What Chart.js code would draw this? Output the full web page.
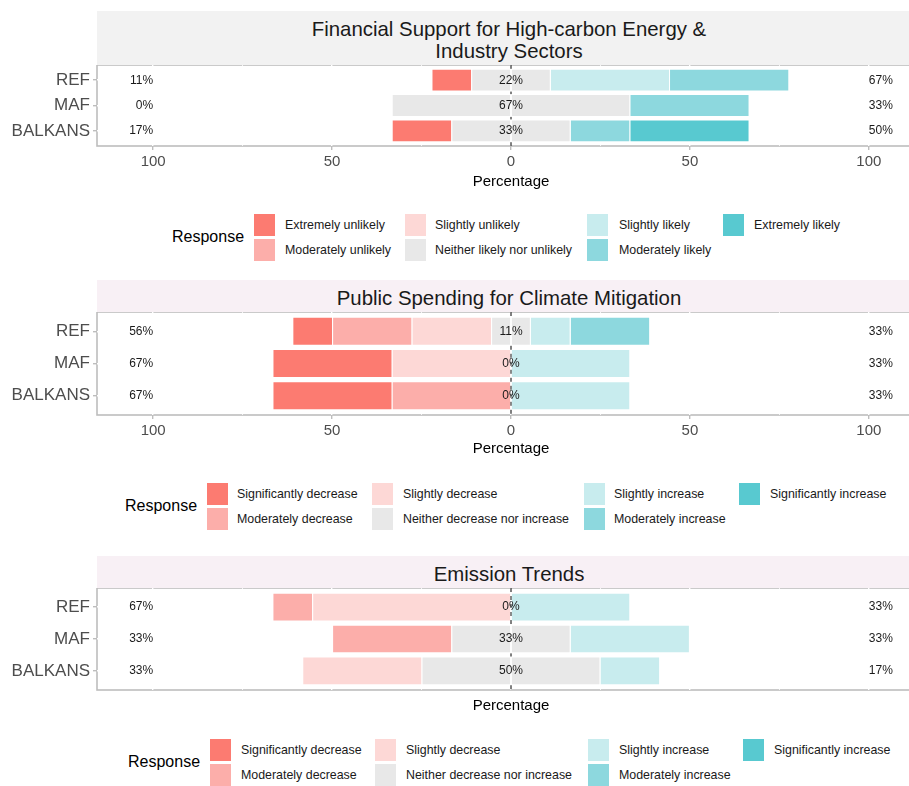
<!DOCTYPE html>
<html>
<head>
<meta charset="utf-8">
<script src="https://cdn.jsdelivr.net/npm/chart.js@4.4.0/dist/chart.umd.min.js"></script>
<style>
  html, body { margin: 0; padding: 0; background: #fff; width: 909px; height: 786px; overflow: hidden; }
  body { position: relative; font-family: 'Liberation Sans', Arial, sans-serif; }
  .strip { position: absolute; left: 97px; width: 824px; box-sizing: border-box; padding-top: 3px;
           display: flex; align-items: center; justify-content: center;
           text-align: center; color: #1a1a1a; font-size: 20.4px; line-height: 22px; }
  canvas { position: absolute; left: 0; }
  .resp { position: absolute; font-size: 16px; color: #000; line-height: 18px; }
  .key { position: absolute; width: 23px; height: 24px; border: 1px solid #fff; box-sizing: border-box; }
  .ktext { position: absolute; font-size: 12.4px; color: #1a1a1a; line-height: 14px; }
</style>
</head>
<body>
<script>
const groups = ['REF', 'MAF', 'BALKANS'];
const xTicks = [-100, -75, -50, -25, 0, 25, 50, 75, 100];

// shares in %, from most negative answer to most positive (7 levels)
const finREF = [11.11, 0, 0, 22.22, 33.33, 33.33, 0];
const finMAF = [0, 0, 0, 66.67, 0, 33.33, 0];
const finBALKANS = [16.67, 0, 0, 33.33, 0, 16.67, 33.33];

const spendREF = [11.11, 22.22, 22.22, 11.11, 11.11, 22.22, 0];
const spendMAF = [33.33, 0, 33.33, 0, 33.33, 0, 0];
const spendBALKANS = [33.33, 33.33, 0, 0, 33.33, 0, 0];

const emisREF = [0, 11.11, 55.56, 0, 33.33, 0, 0];
const emisMAF = [0, 33.33, 0, 33.33, 33.33, 0, 0];
const emisBALKANS = [0, 0, 33.33, 50, 16.67, 0, 0];

const likelyLevels = ['Extremely unlikely', 'Moderately unlikely', 'Slightly unlikely', 'Neither likely nor unlikely',
  'Slightly likely', 'Moderately likely', 'Extremely likely'];
const changeLevels = ['Significantly decrease', 'Moderately decrease', 'Slightly decrease', 'Neither decrease nor increase',
  'Slightly increase', 'Moderately increase', 'Significantly increase'];

const levelColors = ['#FC7B71', '#FCAEAA', '#FDD8D6', '#E8E8E8', '#C8ECEE', '#8DD8DE', '#58C9D0'];

Chart.defaults.font.family = "'Liberation Sans', Arial, sans-serif";

const panels = [
  {
    title: 'Financial Support for High-carbon Energy &<br>Industry Sectors',
    rows: [finREF, finMAF, finBALKANS], levels: likelyLevels,
    strip: { top: 11, h: 54, bg: '#F2F2F2' },
    canvas: { top: 65, h: 126, axisH: 45 }, showTicks: true,
    legend: { top: 213, resp: 172, cols: [[253, 285], [404, 435], [586, 619], [722, 754]] }
  },
  {
    title: 'Public Spending for Climate Mitigation',
    rows: [spendREF, spendMAF, spendBALKANS], levels: changeLevels,
    strip: { top: 280, h: 32, bg: '#F8F0F5' },
    canvas: { top: 312, h: 146, axisH: 43 }, showTicks: true,
    legend: { top: 482, resp: 125, cols: [[206, 237], [371, 403], [583, 614], [738, 770]] }
  },
  {
    title: 'Emission Trends',
    rows: [emisREF, emisMAF, emisBALKANS], levels: changeLevels,
    strip: { top: 556, h: 32, bg: '#F8F0F5' },
    canvas: { top: 588, h: 127, axisH: 25 }, showTicks: false,
    legend: { top: 738, resp: 128, cols: [[209, 241], [374, 406], [587, 619], [742, 774]] }
  }
];

const sum = (r, idx) => idx.reduce((a, i) => a + r[i], 0);

function buildDatasets(rows, levels) {
  const ds = [];
  // neutral is split in half around zero; each side stacks outward from it
  [[3, -1], [2, -1], [1, -1], [0, -1], [3, 1], [4, 1], [5, 1], [6, 1]].forEach(([l, s]) => {
    ds.push({
      label: levels[l],
      backgroundColor: levelColors[l],
      borderColor: 'rgba(255,255,255,0.9)',
      borderWidth: 1,
      data: rows.map((r, i) => ({ y: i + 1, x: (l === 3 ? s * r[l] / 2 : s * r[l]) || null }))
    });
  });
  return ds;
}

function panelPlugin(rows) {
  return {
    id: 'panelDecor',
    beforeDraw(chart) {
      const a = chart.chartArea, ctx = chart.ctx;
      ctx.save();
      ctx.strokeStyle = '#BDBDBD';
      ctx.lineWidth = 1.6;
      ctx.strokeRect(a.left, a.top, a.right - a.left, a.bottom - a.top);
      ctx.restore();
    },
    beforeDatasetsDraw(chart) {
      // dashed zero line, only where no neutral bar sits on top of it
      const a = chart.chartArea, ctx = chart.ctx, ys = chart.scales.y;
      const x0 = chart.scales.x.getPixelForValue(0);
      const half = Math.abs(ys.getPixelForValue(2) - ys.getPixelForValue(1)) * 0.45;
      ctx.save();
      ctx.strokeStyle = '#000';
      ctx.lineWidth = 1;
      ctx.setLineDash([4, 4]);
      ctx.beginPath();
      let start = a.top;
      rows.forEach((r, i) => {
        if (!r[3]) return;
        const yc = ys.getPixelForValue(i + 1);
        ctx.moveTo(x0, start);
        ctx.lineTo(x0, yc - half);
        start = yc + half;
      });
      ctx.moveTo(x0, start);
      ctx.lineTo(x0, a.bottom);
      ctx.stroke();
      ctx.restore();
    },
    afterDatasetsDraw(chart) {
      const ctx = chart.ctx, xs = chart.scales.x, ys = chart.scales.y;
      ctx.save();
      ctx.font = "12px 'Liberation Sans', Arial, sans-serif";
      ctx.fillStyle = '#1a1a1a';
      ctx.textBaseline = 'middle';
      rows.forEach((r, i) => {
        const y = ys.getPixelForValue(i + 1);
        ctx.textAlign = 'right';
        ctx.fillText(Math.round(sum(r, [0, 1, 2])) + '%', xs.getPixelForValue(-100), y);
        ctx.textAlign = 'center';
        ctx.fillText(Math.round(r[3]) + '%', xs.getPixelForValue(0), y);
        ctx.textAlign = 'left';
        ctx.fillText(Math.round(sum(r, [4, 5, 6])) + '%', xs.getPixelForValue(100), y);
      });
      ctx.restore();
    }
  };
}

function addLegend(levels, lg) {
  const resp = document.createElement('div');
  resp.className = 'resp';
  resp.textContent = 'Response';
  resp.style.left = lg.resp + 'px';
  resp.style.top = (lg.top + 24 - 9) + 'px';
  document.body.appendChild(resp);
  lg.cols.forEach(([kx, tx], c) => {
    for (let r = 0; r < 2; r++) {
      const l = c * 2 + r;
      if (l > 6) break;
      const key = document.createElement('div');
      key.className = 'key';
      key.style.background = levelColors[l];
      key.style.left = kx + 'px';
      key.style.top = (lg.top + r * 25) + 'px';
      document.body.appendChild(key);
      const t = document.createElement('div');
      t.className = 'ktext';
      t.textContent = levels[l];
      t.style.left = tx + 'px';
      t.style.top = (lg.top + r * 25 + 12 - 7) + 'px';
      document.body.appendChild(t);
    }
  });
}

panels.forEach(p => {
  const strip = document.createElement('div');
  strip.className = 'strip';
  strip.innerHTML = p.title;
  strip.style.top = p.strip.top + 'px';
  strip.style.height = p.strip.h + 'px';
  strip.style.background = p.strip.bg;
  document.body.appendChild(strip);

  const canvas = document.createElement('canvas');
  canvas.width = 925;
  canvas.height = p.canvas.h;
  canvas.style.top = p.canvas.top + 'px';
  document.body.appendChild(canvas);

  new Chart(canvas, {
    type: 'bar',
    data: { datasets: buildDatasets(p.rows, p.levels) },
    options: {
      indexAxis: 'y',
      responsive: false,
      animation: false,
      devicePixelRatio: 1,
      layout: { padding: 0 },
      datasets: { bar: { barPercentage: 0.9, categoryPercentage: 1 } },
      plugins: { legend: { display: false }, tooltip: { enabled: false } },
      scales: {
        x: {
          type: 'linear', stacked: true, min: -115.7, max: 115.7,
          afterBuildTicks: s => { s.ticks = xTicks.map(v => ({ value: v })); },
          afterFit: s => { s.height = p.canvas.axisH; s.paddingLeft = 0; s.paddingRight = 0; },
          border: { display: false },
          grid: {
            color: '#fff',
            lineWidth: c => (c.tick && c.tick.value % 50 === 0 ? 1.4 : 0.8),
            tickColor: c => (p.showTicks && c.tick && c.tick.value % 50 === 0 ? '#BDBDBD' : 'rgba(0,0,0,0)'),
            tickLength: 4
          },
          ticks: {
            display: p.showTicks, padding: 3, color: '#4D4D4D', font: { size: 15 },
            maxRotation: 0, autoSkip: false,
            callback: v => (v % 50 === 0 ? String(Math.abs(v)) : '')
          },
          title: { display: true, text: 'Percentage', color: '#000', font: { size: 15 }, padding: 0 }
        },
        y: {
          type: 'linear', stacked: true, reverse: true, min: 0.4, max: 3.6, offset: false,
          afterBuildTicks: s => { s.ticks = groups.map((g, i) => ({ value: i + 1 })); },
          afterFit: s => { s.width = 97; s.paddingTop = 0; s.paddingBottom = 0; },
          border: { display: false },
          grid: { color: '#fff', lineWidth: 1.4, tickColor: '#BDBDBD', tickLength: 4, offset: false },
          ticks: { padding: 3, color: '#4D4D4D', font: { size: 17 }, autoSkip: false, callback: v => groups[v - 1] }
        }
      }
    },
    plugins: [panelPlugin(p.rows)]
  });

  addLegend(p.levels, p.legend);
});
</script>
</body>
</html>
